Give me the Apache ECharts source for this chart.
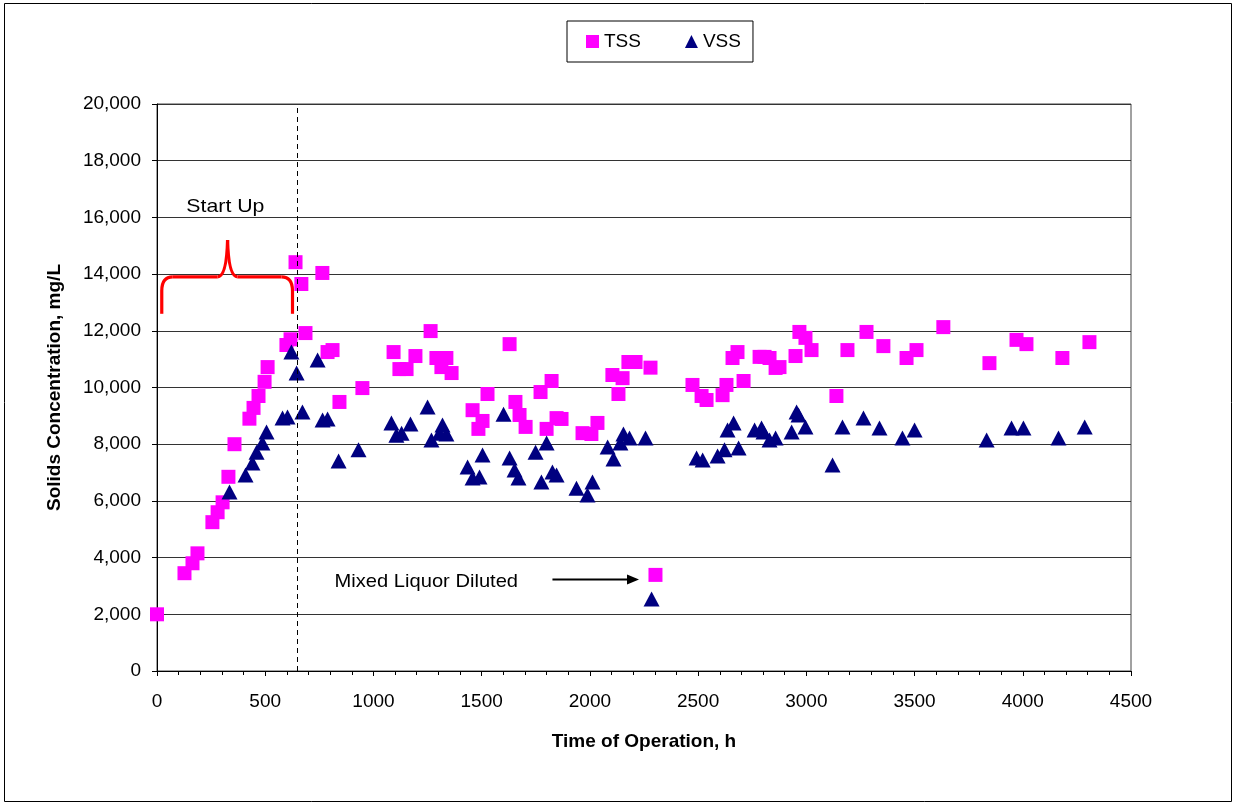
<!DOCTYPE html>
<html><head><meta charset="utf-8">
<script src="https://cdn.jsdelivr.net/npm/echarts@6/dist/echarts.min.js"></script>
<style>html,body{margin:0;padding:0;background:#fff}#c{width:1233px;height:805px}</style>
</head><body><div id="c"></div>
<script>
// ---- data ----
const tssHours = [0,127,164,187,256,280,303,330,358,427,446,469,497,511,598,617,640,667,686,764,788,811,843,949,
  1093,1120,1153,1194,1264,1291,1314,1337,1361,1458,1485,1504,1527,1629,1656,1675,1703,1772,1800,1823,1846,1869,
  1966,2007,2035,2104,2132,2151,2178,2211,2280,2303,2474,2516,2539,2613,2631,2659,2682,2710,2784,2807,2830,2858,2876,
  2950,2968,2996,3024,3139,3190,3278,3356,3463,3509,3633,3846,3971,4017,4183,4308];
const tssValues = [2000,3450,3800,4150,5250,5600,5950,6850,8000,8900,9280,9700,10200,10720,11500,11700,14420,13650,11920,14040,11250,11320,9490,9980,
  11250,10650,10650,11110,11990,11040,10720,11040,10510,9200,8540,8820,9770,11530,9490,9030,8610,9840,8540,10230,8920,8890,
  8390,8360,8750,10440,9770,10330,10900,10900,10700,3390,10090,9700,9560,9730,10090,11040,11250,10230,11080,11080,11040,10690,10720,
  11110,11960,11750,11320,9700,11320,11960,11460,11040,11320,12130,10860,11680,11530,11040,11600];
const vssHours = [335,409,441,460,487,506,580,603,621,645,672,742,765,788,839,931,
  1083,1106,1130,1171,1250,1268,1305,1319,1337,1435,1458,1490,1504,1601,1629,1652,1670,1749,1776,1800,1827,1846,
  1938,1989,2012,2082,2109,2141,2155,2183,2257,2285,2493,2521,2590,2622,2636,2664,2687,2761,2793,2802,2830,2858,
  2932,2955,2964,2996,3121,3167,3264,3338,3444,3500,3833,3948,4003,4165,4286];
const vssValues = [6310,6910,7340,7720,8040,8430,8920,8960,11250,10510,9140,10970,8850,8890,7410,7800,
  8750,8320,8390,8710,9310,8150,8390,8680,8360,7200,6810,6840,7620,9060,7510,7090,6810,7720,6670,8040,7020,6910,
  6450,6210,6670,7900,7480,8040,8360,8220,8220,2540,7510,7440,7580,7800,8500,8750,7870,8500,8570,8430,8150,8220,
  8430,9140,9030,8610,7270,8610,8920,8570,8220,8500,8150,8570,8570,8220,8610];
const seriesNames = ['TSS','VSS'];
const xAxisTitle = 'Time of Operation, h';
const yAxisTitle = 'Solids Concentration, mg/L';
const startUpEnd = 650;          // dashed line, h
const startUpText = 'Start Up';
const dilutedText = 'Mixed Liquor Diluted';

const FONT = 'Liberation Sans, Arial, sans-serif';
const chart = echarts.init(document.getElementById('c'), null, {renderer:'canvas'});
const pair = (xs, ys) => xs.map((x,i)=>[x, ys[i]]);

chart.setOption({
  animation:false,
  backgroundColor:'#fff',
  textStyle:{fontFamily:FONT, color:'#000'},
  legend:{
    left:567, top:21, padding:[11,12,11,19], itemGap:44,
    itemWidth:13, itemHeight:13,
    borderColor:'#000', borderWidth:1,
    textStyle:{fontSize:19, color:'#000', fontFamily:FONT},
    data:[{name:seriesNames[0], icon:'rect'},{name:seriesNames[1], icon:'triangle'}]
  },
  grid:{left:157, top:104, width:974, height:567, show:true, borderColor:'#444', borderWidth:1},
  xAxis:{
    type:'value', min:0, max:4500, interval:500,
    name:xAxisTitle, nameLocation:'middle', nameGap:61,
    nameTextStyle:{fontSize:19, fontWeight:'bold', color:'#000', fontFamily:FONT},
    axisLine:{lineStyle:{color:'#000', width:1}},
    axisTick:{length:5, lineStyle:{color:'#000'}},
    minorTick:{show:true, splitNumber:5, length:4, lineStyle:{color:'#000'}},
    splitLine:{show:false},
    axisLabel:{fontSize:19, color:'#000', margin:21, fontFamily:FONT, formatter:v=>String(v)}
  },
  yAxis:{
    type:'value', min:0, max:20000, interval:2000,
    name:yAxisTitle, nameLocation:'middle', nameGap:93,
    nameTextStyle:{fontSize:19, fontWeight:'bold', color:'#000', fontFamily:FONT},
    axisLine:{lineStyle:{color:'#000', width:1}},
    axisTick:{length:5, lineStyle:{color:'#000'}},
    splitLine:{lineStyle:{color:'#333', width:1}},
    axisLabel:{fontSize:19, color:'#000', margin:16, fontFamily:FONT,
      formatter:v=>v.toLocaleString('en-US')}
  },
  series:[
    {name:seriesNames[0], type:'scatter', symbol:'rect', symbolSize:14, z:2,
     itemStyle:{color:'#FF00FF', opacity:1},
     data:pair(tssHours, tssValues),
     markLine:{silent:true, symbol:['none','none'], label:{show:false},
       lineStyle:{type:[5,4], color:'#000', width:1},
       data:[{xAxis:startUpEnd}]}
    },
    {name:seriesNames[1], type:'scatter', symbol:'triangle', symbolSize:[16,15], z:3,
     itemStyle:{color:'#000080', opacity:1},
     data:pair(vssHours, vssValues)
    }
  ]
});

// annotations placed in data coordinates
const P = (x,y) => chart.convertToPixel({gridIndex:0}, [x,y]);
const bl = P(22,12600), br = P(626,12600), ln = P(0,13900), pk = P(326,15200);
const x0=bl[0], x1=br[0], yB=bl[1], yL=ln[1], xp=pk[0], yP=pk[1];
const red = {fill:'none', stroke:'#FF0000', lineWidth:3.2};
const braceParts = [
  {type:'line', shape:{x1:x0,y1:yB,x2:x0,y2:yL+14}, style:red},
  {type:'bezierCurve', shape:{x1:x0,y1:yL+14,cpx1:x0,cpy1:yL,x2:x0+11,y2:yL}, style:red},
  {type:'line', shape:{x1:x0+11,y1:yL,x2:xp-10,y2:yL}, style:red},
  {type:'bezierCurve', shape:{x1:xp-10,y1:yL,cpx1:xp-1,cpy1:yL,x2:xp,y2:yP}, style:red},
  {type:'bezierCurve', shape:{x1:xp,y1:yP,cpx1:xp+1,cpy1:yL,x2:xp+10,y2:yL}, style:red},
  {type:'line', shape:{x1:xp+10,y1:yL,x2:x1-11,y2:yL}, style:red},
  {type:'bezierCurve', shape:{x1:x1-11,y1:yL,cpx1:x1,cpy1:yL,x2:x1,y2:yL+14}, style:red},
  {type:'line', shape:{x1:x1,y1:yL+14,x2:x1,y2:yB}, style:red}
].map(e=>Object.assign(e,{silent:true, z:10}));
const su = P(316,16365), md = P(820,3150);
const a0 = P(1827,3230), a1 = P(2227,3230);
chart.setOption({
  graphic:[
    {type:'rect', shape:{x:4.5,y:3.5,width:1227,height:798}, style:{fill:'none', stroke:'#000', lineWidth:1}, silent:true},
    ...braceParts,
    {type:'line', silent:true, z:10, shape:{x1:a0[0],y1:a0[1],x2:a1[0]-10,y2:a1[1]}, style:{stroke:'#000', lineWidth:2}},
    {type:'polygon', silent:true, z:10, shape:{points:[[a1[0]-12,a1[1]-5],[a1[0],a1[1]],[a1[0]-12,a1[1]+5]]}, style:{fill:'#000'}},
    {type:'text', x:su[0], y:su[1], z:10, scaleX:1.12, style:{text:startUpText, fontSize:19, fontFamily:FONT, fill:'#000', align:'center', verticalAlign:'middle'}},
    {type:'text', x:md[0], y:md[1], z:10, scaleX:1.06, style:{text:dilutedText, fontSize:19, fontFamily:FONT, fill:'#000', align:'left', verticalAlign:'middle'}}
  ]
});
</script></body></html>
